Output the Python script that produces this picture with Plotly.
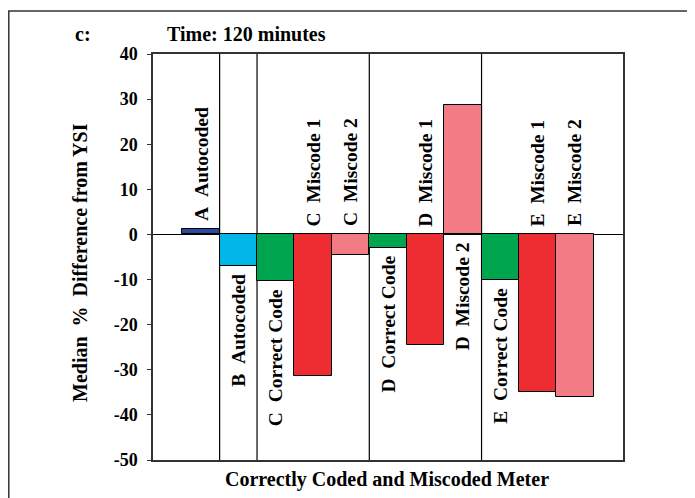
import plotly.graph_objects as go

labels = ["A  Autocoded", "B  Autocoded", "C  Correct Code", "C  Miscode 1", "C  Miscode 2",
          "D  Correct Code", "D  Miscode 1", "D  Miscode 2",
          "E  Correct Code", "E  Miscode 1", "E  Miscode 2"]
groups = ["A", "B", "C", "C", "C", "D", "D", "D", "E", "E", "E"]
values = [1.2, -7.0, -10.3, -31.3, -4.5, -3.0, -24.5, 28.8, -10.0, -35.0, -36.0]
label_side = ["above", "below", "below", "above", "above", "below", "above", "below",
              "below", "above", "above"]
colors = ["#2B4BA0", "#00B5E8", "#00A550", "#EE2D33", "#F27B85",
          "#00A550", "#EE2D33", "#F27B85", "#00A550", "#EE2D33", "#F27B85"]
y_ticks = [40, 30, 20, 10, 0, -10, -20, -30, -40, -50]

FONT = "Liberation Serif"
OFF = 8  # default page body margin
W, H = 695, 498
# target plot area in window pixels: x 153..623, y 54..460
PL, PR, PT, PB = 153, 623, 54, 460
L, T = PL - OFF, PT - OFF
R = W - (PR - OFF)
B = H - (PB - OFF)
pw, ph = PR - PL, PB - PT

def px2paper_x(px):
    return (px - PL) / pw

def px2paper_y(py):
    return (PB - py) / ph

def nb(s):
    return s.replace("  ", "\u00a0\u00a0")

xs = list(range(len(values)))
fig = go.Figure()
fig.add_trace(go.Bar(
    x=xs, y=values, marker=dict(color=colors, line=dict(color="black", width=1)),
    width=1.0, hoverinfo="skip"))

# group separators
for i in range(1, len(groups)):
    if groups[i] != groups[i - 1]:
        fig.add_shape(type="line", xref="x", yref="y", x0=i - 0.5, x1=i - 0.5,
                      y0=min(y_ticks), y1=max(y_ticks),
                      line=dict(color="black", width=1.2), layer="below")

anns = []
for i, (lab, v, side) in enumerate(zip(labels, values, label_side)):
    txt = "<b>%s</b>" % nb(lab)
    if side == "above":
        anns.append(dict(x=i, y=max(v, 0), xref="x", yref="y", text=txt,
                         textangle=-90, showarrow=False, xanchor="center", yanchor="bottom",
                         yshift=6, font=dict(family=FONT, size=19.5, color="black")))
    else:
        anns.append(dict(x=i, y=min(v, 0), xref="x", yref="y", text=txt,
                         textangle=-90, showarrow=False, xanchor="center", yanchor="top",
                         yshift=-6, font=dict(family=FONT, size=19.5, color="black")))

anns.append(dict(x=px2paper_x(73), y=px2paper_y(34), xref="paper", yref="paper",
                 text="<b>c:</b>", showarrow=False, xanchor="left", yanchor="middle",
                 font=dict(family=FONT, size=20, color="black")))
anns.append(dict(x=px2paper_x(165), y=px2paper_y(34), xref="paper", yref="paper",
                 text="<b>Time: 120 minutes</b>", showarrow=False, xanchor="left", yanchor="middle",
                 font=dict(family=FONT, size=20, color="black")))
anns.append(dict(x=px2paper_x(80), y=px2paper_y(263), xref="paper", yref="paper",
                 text="<b>%s</b>" % nb("Median  %  Difference from YSI"), textangle=-90,
                 showarrow=False, xanchor="center", yanchor="middle",
                 font=dict(family=FONT, size=20, color="black")))
anns.append(dict(x=px2paper_x(386.5), y=px2paper_y(479), xref="paper", yref="paper",
                 text="<b>Correctly Coded and Miscoded Meter</b>", showarrow=False,
                 xanchor="center", yanchor="middle",
                 font=dict(family=FONT, size=20, color="black")))

# outer frame (left edge at the figure's own left border)
fig.add_shape(type="rect", xref="paper", yref="paper",
              x0=px2paper_x(OFF + 0.8), x1=px2paper_x(730), y0=px2paper_y(11), y1=px2paper_y(530),
              line=dict(color="#333333", width=1.5), fillcolor="rgba(0,0,0,0)")

fig.update_layout(
    width=W, height=H, margin=dict(l=L, r=R, t=T, b=B, autoexpand=False),
    paper_bgcolor="white", plot_bgcolor="white", showlegend=False,
    bargap=0, annotations=anns,
    font=dict(family=FONT, size=18, color="black"),
    xaxis=dict(range=[-1.28, len(values) - 1 + 1.28], showticklabels=False, ticks="",
               showgrid=False, zeroline=False, showline=True, mirror=True,
               linecolor="#333333", linewidth=1.5, fixedrange=True),
    yaxis=dict(range=[min(y_ticks), max(y_ticks)], tickvals=y_ticks,
               ticktext=["<b>%d</b>" % t for t in y_ticks],
               ticks="outside", ticklen=4, tickcolor="#333333", tickwidth=1.2,
               ticklabelstandoff=6,
               showgrid=False, zeroline=True, zerolinecolor="black", zerolinewidth=1.2,
               showline=True, mirror=True, linecolor="#333333", linewidth=1.5,
               tickfont=dict(family=FONT, size=18, color="black"), fixedrange=True),
)

fig.write_html("out.html")
